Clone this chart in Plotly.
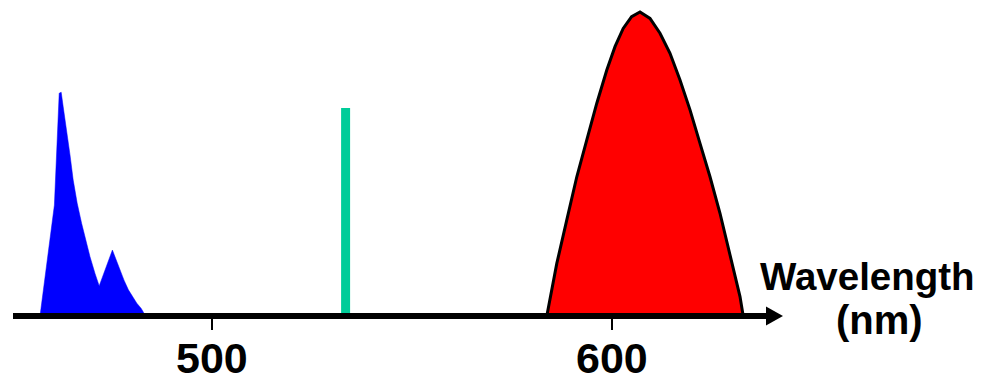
import plotly.graph_objects as go

# Emission spectra (wavelength in nm, relative intensity)
blue_nm = [457.0, 460.6, 461.8, 462.3, 462.8, 463.7, 464.5, 465.3, 466.3, 467.4, 468.5, 469.5, 470.75, 471.8,
           475.1, 476.2, 477.0, 478.0, 479.1, 480.2, 481.2, 482.3, 483.4]
blue_int = [0.0, 0.365, 0.733, 0.736, 0.688, 0.612, 0.530, 0.447, 0.371, 0.305, 0.245, 0.195, 0.140, 0.099,
            0.217, 0.179, 0.151, 0.118, 0.086, 0.061, 0.042, 0.025, 0.0]

green_nm = [533.4]
green_int = [0.684]
green_width = 2.25

red_nm = [583.7, 586.2, 588.7, 591.2, 593.7, 596.2, 598.7, 600.75, 602.8, 604.9, 607.0,
          609.5, 612.0, 614.5, 617.0, 619.5, 622.0, 624.5, 627.0, 629.5, 632.0, 632.8]
red_int = [0.0, 0.173, 0.316, 0.458, 0.579, 0.700, 0.809, 0.886, 0.946, 0.985, 1.0,
           0.979, 0.930, 0.864, 0.776, 0.678, 0.568, 0.458, 0.338, 0.206, 0.064, 0.0]

tick_vals = [500, 600]
tick_text = ["500", "600"]
axis_title = ["Wavelength", "(nm)"]

# Axis extents
x_range = [447.0, 693.0]
y_range = [-0.21711, 1.03947]
axis_start = 450.25
axis_tip = 642.75
head_len = 4.25       # nm
head_half = 0.031     # intensity units
FONT = "Liberation Sans, Arial, sans-serif"
W, H = 984, 382

fig = go.Figure()

fig.add_trace(go.Scatter(
    x=blue_nm, y=blue_int, mode="lines", fill="toself",
    fillcolor="#0000FF", line=dict(color="#0000FF", width=0.5),
    hoverinfo="skip"))

fig.add_trace(go.Bar(
    x=green_nm, y=green_int, width=green_width,
    marker=dict(color="#00CC99", line=dict(width=0)), hoverinfo="skip"))

fig.add_trace(go.Scatter(
    x=red_nm, y=red_int, mode="lines", fill="toself",
    fillcolor="#FF0000", line=dict(color="black", width=3),
    hoverinfo="skip"))

# Axis line with arrow head
fig.add_shape(type="line", x0=axis_start, x1=axis_tip - head_len + 0.5, y0=0, y1=0,
              line=dict(color="black", width=6), layer="above")
fig.add_shape(type="path",
              path=f"M {axis_tip - head_len},{head_half} L {axis_tip},0 L {axis_tip - head_len},{-head_half} Z",
              fillcolor="black", line=dict(width=0), layer="above")

# Tick marks and labels
for v, t in zip(tick_vals, tick_text):
    fig.add_shape(type="line", x0=v, x1=v, y0=0, y1=-0.046,
                  line=dict(color="black", width=2), layer="above")
    fig.add_annotation(x=v, y=1 - 357.5 / H, xref="x", yref="paper",
                       text=t, showarrow=False, xanchor="center", yanchor="middle",
                       font=dict(family=FONT, size=43, color="black", weight="bold"))

# Axis title, two lines
fig.add_annotation(x=867 / W, y=1 - 276 / H, xref="paper", yref="paper",
                   text=axis_title[0], showarrow=False, xanchor="center", yanchor="middle",
                   font=dict(family=FONT, size=38.5, color="black", weight="bold"))
fig.add_annotation(x=879 / W, y=1 - 320 / H, xref="paper", yref="paper",
                   text=axis_title[1], showarrow=False, xanchor="center", yanchor="middle",
                   font=dict(family=FONT, size=40, color="black", weight="bold"))

fig.update_layout(
    width=W, height=H, margin=dict(l=0, r=0, t=0, b=0),
    paper_bgcolor="white", plot_bgcolor="white", showlegend=False,
    xaxis=dict(range=x_range, visible=False, fixedrange=True),
    yaxis=dict(range=y_range, visible=False, fixedrange=True),
)
fig.write_html("out.html")
